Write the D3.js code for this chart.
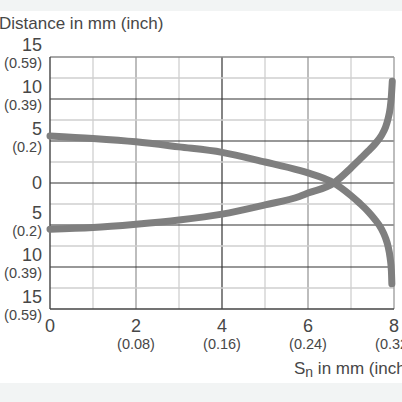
<!DOCTYPE html>
<html>
<head>
<meta charset="utf-8">
<script src="https://cdn.jsdelivr.net/npm/d3@7"></script>
<style>
html,body{margin:0;padding:0;background:#fff;}
svg{display:block;font-family:"Liberation Sans",Arial,sans-serif;}
</style>
</head>
<body>
<script>
// ---- data (mm) ----
const curveDown = [[0,5.6],[1,5.3],[2,4.9],[3,4.3],[4,3.65],[5,2.5],[5.8,1.5],[6,1.2],[6.6,0],[7,-1.5],[7.2,-2.4],[7.4,-3.4],[7.55,-4.3],[7.7,-5.4],[7.8,-6.5],[7.86,-7.5],[7.91,-8.9],[7.94,-10.5],[7.95,-12]];
const curveUp = [[0,-5.5],[1,-5.3],[2,-4.9],[3,-4.4],[4,-3.7],[5,-2.6],[5.8,-1.6],[6,-1.2],[6.6,0],[7,1.8],[7.2,2.8],[7.4,3.8],[7.55,4.6],[7.7,5.6],[7.8,6.6],[7.86,7.6],[7.91,8.9],[7.94,10.4],[7.96,12.1]];
const xTicks = [0,2,4,6,8];
const xInch = ["","(0.08)","(0.16)","(0.24)","(0.32)"];
const yTicks = [15,10,5,0,-5,-10,-15];
const yInch = ["(0.59)","(0.39)","(0.2)","","(0.2)","(0.39)","(0.59)"];
const xGrid = [1,2,3,4,5,6,7];
const yGrid = [12.5,10,7.5,5,2.5,0,-2.5,-5,-7.5,-10,-12.5];
const title = "Distance in mm (inch)";

const W=402,H=402;
const svg=d3.select("body").append("svg").attr("width",W).attr("height",H);
svg.append("rect").attr("x",0).attr("y",0).attr("width",W).attr("height",11).attr("fill","#f2f4f4");
svg.append("rect").attr("x",0).attr("y",383).attr("width",W).attr("height",19).attr("fill","#f2f4f4");

const x=d3.scaleLinear().domain([0,8]).range([50,394]);
const y=d3.scaleLinear().domain([-15,15]).range([309,57]);

function vStyle(v){ if(v===4) return "#333"; if(v===2||v===6) return "#9a9a9a"; return "#cfcfcf"; }
function hStyle(v){ return (v%5===0) ? "#333" : "#cfcfcf"; }

const g=svg.append("g");
g.selectAll("line.v").data(xGrid).join("line")
 .attr("x1",d=>x(d)).attr("x2",d=>x(d)).attr("y1",y(15)).attr("y2",y(-15))
 .attr("stroke",d=>vStyle(d)).attr("stroke-width",d=>d===4?1.2:1.3);
g.selectAll("line.h").data(yGrid).join("line")
 .attr("x1",x(0)).attr("x2",x(8)).attr("y1",d=>y(d)).attr("y2",d=>y(d))
 .attr("stroke",d=>hStyle(d)).attr("stroke-width",d=>d%5===0?1.1:1.3);
// borders
g.append("line").attr("x1",x(0)).attr("x2",x(8)).attr("y1",y(15)).attr("y2",y(15)).attr("stroke","#8a8a8a").attr("stroke-width",1.3);
g.append("line").attr("x1",x(8)).attr("x2",x(8)).attr("y1",y(15)).attr("y2",y(-15)).attr("stroke","#9a9a9a").attr("stroke-width",1.3);
g.append("line").attr("x1",x(0)).attr("x2",x(8)).attr("y1",y(-15)).attr("y2",y(-15)).attr("stroke","#444").attr("stroke-width",1.4);
g.append("line").attr("x1",x(0)).attr("x2",x(0)).attr("y1",y(15)).attr("y2",y(-15)).attr("stroke","#444").attr("stroke-width",1.4);

// curves
const line=d3.line().x(d=>x(d[0])).y(d=>y(d[1])).curve(d3.curveMonotoneX);
[curveDown,curveUp].forEach(c=>{
  svg.append("path").attr("d",line(c)).attr("fill","none").attr("stroke","#7f7f7f")
   .attr("stroke-width",7).attr("stroke-linecap","round").attr("stroke-linejoin","round");
});

const txt="#474747";
// y labels
yTicks.forEach((v,i)=>{
  if(yInch[i]===""){
    svg.append("text").attr("x",42).attr("y",y(v)+6).attr("text-anchor","end")
     .attr("font-size",18).attr("fill",txt).text(Math.abs(v));
  } else {
    svg.append("text").attr("x",42).attr("y",y(v)-6).attr("text-anchor","end")
     .attr("font-size",18).attr("fill",txt).text(Math.abs(v));
    svg.append("text").attr("x",42).attr("y",y(v)+11).attr("text-anchor","end")
     .attr("font-size",14.5).attr("fill",txt).text(yInch[i]);
  }
});
// x labels
xTicks.forEach((v,i)=>{
  svg.append("text").attr("x",x(v)).attr("y",332).attr("text-anchor","middle")
   .attr("font-size",18).attr("fill",txt).text(v);
  if(xInch[i]) svg.append("text").attr("x",x(v)).attr("y",349).attr("text-anchor","middle")
   .attr("font-size",14.5).attr("fill",txt).text(xInch[i]);
});
// titles
svg.append("text").attr("x",-1).attr("y",29).attr("font-size",17).attr("fill",txt).text(title);
const xt=svg.append("text").attr("x",294).attr("y",374).attr("font-size",17).attr("fill",txt);
xt.append("tspan").text("S");
xt.append("tspan").attr("font-size",14).attr("dy",3).text("n");
xt.append("tspan").attr("dy",-3).text(" in mm (inch)");
</script>
</body>
</html>
